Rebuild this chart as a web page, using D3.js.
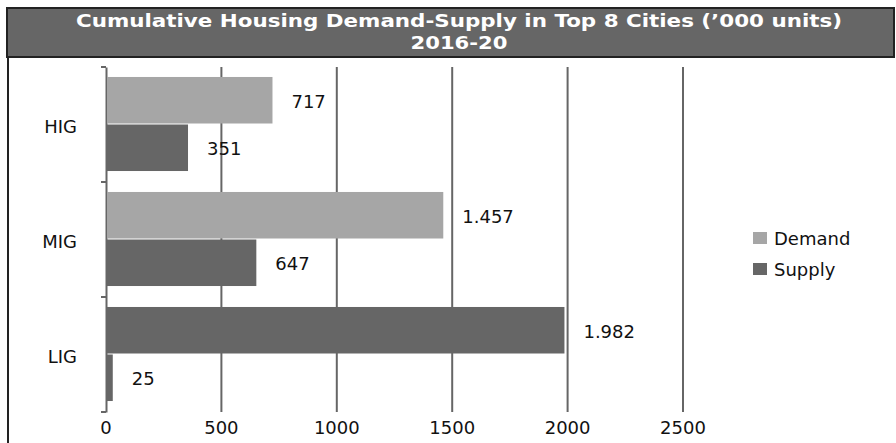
<!DOCTYPE html>
<html><head><meta charset="utf-8">
<script src="https://cdn.jsdelivr.net/npm/d3@7"></script>
<style>
body{margin:0;background:#fff;}
svg{display:block;font-family:"DejaVu Sans",sans-serif;}
</style></head>
<body><svg id="c" width="896" height="443"></svg>
<script>
const categories = ["HIG","MIG","LIG"];
const seriesNames = ["Demand","Supply"];
const demand = [717, 1457, 1982];
const supply = [351, 647, 25];
const xTicks = [0,500,1000,1500,2000,2500];
const titleLines = ["Cumulative Housing Demand-Supply in Top 8 Cities (\u2019000 units)","2016-20"];

const light = "#a6a6a6", dark = "#666666";
const svg = d3.select("#c");
const W = 896, H = 443;

// frame & title
svg.append("rect").attr("x",7).attr("y",8).attr("width",887).attr("height",49)
  .attr("fill",dark).attr("stroke","#222").attr("stroke-width",2);
svg.append("line").attr("x1",8).attr("x2",8).attr("y1",57).attr("y2",H).attr("stroke","#222").attr("stroke-width",2);
svg.selectAll("text.title").data(titleLines).join("text")
  .attr("x",459).attr("y",(d,i)=>27+i*22).attr("text-anchor","middle")
  .attr("fill","#fff").attr("font-weight","bold").attr("font-size",17)
  .attr("textLength",(d,i)=>i===0?766:97).attr("lengthAdjust","spacingAndGlyphs")
  .text(d=>d);

const x = d3.scaleLinear().domain([0,2500]).range([106,683]);
const y = d3.scaleBand().domain(categories).range([67,412]);
const inner = d3.scaleBand().domain(seriesNames).range([0,y.bandwidth()]).paddingOuter(0.21).paddingInner(0);

// gridlines
svg.selectAll("line.grid").data(xTicks.filter(t=>t>0)).join("line")
  .attr("x1",d=>x(d)).attr("x2",d=>x(d)).attr("y1",67).attr("y2",412)
  .attr("stroke",dark).attr("stroke-width",2);

// y axis
const ya = svg.append("g").attr("transform","translate(106,0)")
  .call(d3.axisLeft(y).tickSize(0).tickFormat(""));
ya.select(".domain").attr("stroke",dark).attr("stroke-width",2);
svg.selectAll("line.ytick").data([67,...categories.map(c=>y(c)+y.bandwidth())]).join("line")
  .attr("x1",101).attr("x2",106).attr("y1",d=>d).attr("y2",d=>d).attr("stroke",dark).attr("stroke-width",2);
svg.selectAll("text.cat").data(categories).join("text")
  .attr("x",77).attr("y",d=>y(d)+y.bandwidth()/2+8).attr("text-anchor","end")
  .attr("font-size",18).attr("fill","#111").text(d=>d);

// x tick labels
svg.selectAll("text.xt").data(xTicks).join("text")
  .attr("x",d=>x(d)).attr("y",434).attr("text-anchor","middle")
  .attr("font-size",18).attr("fill","#111").text(d=>d);

const rows = categories.map((c,i)=>({c, vals:[{s:"Demand",v:demand[i]},{s:"Supply",v:supply[i]}]}));
const fmt = v => d3.format(",")(v).replace(",",".");
const g = svg.selectAll("g.cat").data(rows).join("g").attr("transform",d=>`translate(0,${y(d.c)})`);
g.selectAll("rect").data(d=>d.vals.map(o=>({...o,c:d.c}))).join("rect")
  .attr("x",x(0)+1).attr("y",d=>inner(d.s)).attr("height",inner.bandwidth()-1)
  .attr("width",d=>x(d.v)-x(0))
  .attr("fill",d=>(d.s==="Supply"||d.c==="LIG")?dark:light);
g.selectAll("text").data(d=>d.vals).join("text")
  .attr("x",d=>x(d.v)+20).attr("y",d=>inner(d.s)+inner.bandwidth()/2+7)
  .attr("font-size",18).attr("fill","#111").text(d=>fmt(d.v));

// legend
const lg = svg.selectAll("g.lg").data(seriesNames).join("g").attr("transform",(d,i)=>`translate(753,${232+i*31})`);
lg.append("rect").attr("width",14).attr("height",12).attr("fill",(d,i)=>i?dark:light);
lg.append("text").attr("x",21).attr("y",13).attr("font-size",18).attr("fill","#111").text(d=>d);
</script></body></html>
